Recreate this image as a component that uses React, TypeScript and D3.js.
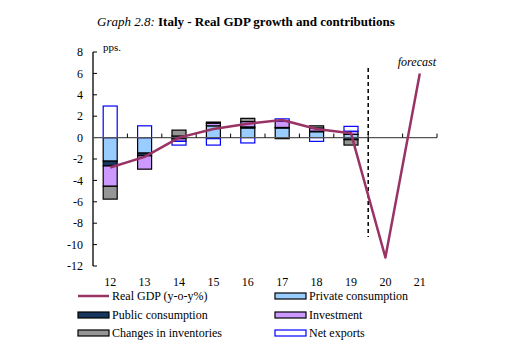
import React from 'react';
import * as d3 from 'd3';

// Data (pps. contributions)
const years = ['12', '13', '14', '15', '16', '17', '18', '19', '20', '21'];
const privateCons = [-2.2, -1.45, 0.15, 1.1, 0.9, 0.9, 0.55, 0.3, null, null];
const publicCons = [-0.45, -0.25, -0.1, -0.1, 0.1, 0.05, 0.05, -0.2, null, null];
const investment = [-1.9, -1.25, -0.25, 0.25, 0.5, 0.6, 0.3, 0.3, null, null];
const inventories = [-1.2, 0, 0.55, 0.1, 0.3, -0.1, 0.2, -0.5, null, null];
const netExports = [2.95, 1.1, -0.35, -0.6, -0.5, 0.2, -0.35, 0.45, null, null];
const gdp = [-2.8, -1.8, 0.0, 0.8, 1.3, 1.65, 0.8, 0.4, -11.2, 6.0];
const yTicks = [8, 6, 4, 2, 0, -2, -4, -6, -8, -10, -12];

const series = [
  { name: 'Private consumption', values: privateCons, fill: '#99ccff', stroke: '#000' },
  { name: 'Public consumption', values: publicCons, fill: '#17375e', stroke: '#000' },
  { name: 'Investment', values: investment, fill: '#cc99ff', stroke: '#000' },
  { name: 'Changes in inventories', values: inventories, fill: '#969696', stroke: '#000' },
  { name: 'Net exports', values: netExports, fill: '#ffffff', stroke: '#0000ff' },
];

const lineColor = '#993366';
const font = 'Liberation Serif, DejaVu Serif, serif';

export default function App() {
  const width = 521;
  const height = 354;
  const left = 93;
  const right = 437;
  const top = 52;
  const bottom = 266;

  const x = d3.scaleBand().domain(years).range([left, right]).padding(0);
  const y = d3.scaleLinear().domain([-12, 8]).range([bottom, top]);
  const barW = 14;
  const cx = (yr: string) => (x(yr) as number) + x.bandwidth() / 2;

  // stack positive up / negative down
  const rects: any[] = [];
  years.forEach((yr, i) => {
    let pos = 0;
    let neg = 0;
    series.forEach((s) => {
      const v = s.values[i];
      if (v == null || v === 0) return;
      let y0, y1;
      if (v > 0) { y0 = pos; y1 = pos + v; pos = y1; }
      else { y0 = neg; y1 = neg + v; neg = y1; }
      rects.push({ yr, y0, y1, s });
    });
  });

  const line = d3.line<number>()
    .x((d, i) => cx(years[i]))
    .y((d) => y(d));

  const boundary = (x('20') as number);

  const legend = [
    { label: 'Real GDP (y-o-y%)', type: 'line', col: 0, row: 0 },
    { label: 'Private consumption', s: series[0], col: 1, row: 0 },
    { label: 'Public consumption', s: series[1], col: 0, row: 1 },
    { label: 'Investment', s: series[2], col: 1, row: 1 },
    { label: 'Changes in inventories', s: series[3], col: 0, row: 2 },
    { label: 'Net exports', s: series[4], col: 1, row: 2 },
  ];
  const legX = [78, 275];
  const legY = [296, 315, 333];

  return (
    <svg width={width} height={height} style={{ position: 'absolute', left: 0, top: 0, background: '#fff', fontFamily: font }}>
      {/* title */}
      <text x={97} y={26} fontSize={13}>
        <tspan fontStyle="italic">Graph 2.8: </tspan>
        <tspan fontWeight="bold">Italy - Real GDP growth and contributions</tspan>
      </text>
      <text x={103} y={51} fontSize={11}>pps.</text>

      {/* bars */}
      {rects.map((r, i) => (
        <rect key={i}
          x={cx(r.yr) - barW / 2}
          y={y(Math.max(r.y0, r.y1))}
          width={barW}
          height={Math.abs(y(r.y0) - y(r.y1))}
          fill={r.s.fill}
          stroke={r.s.stroke}
          strokeWidth={1.2} />
      ))}

      {/* y axis */}
      <line x1={left} x2={left} y1={top} y2={bottom} stroke="#000" strokeWidth={1.3} />
      {yTicks.map((t) => (
        <g key={t}>
          <line x1={left} x2={left + 4} y1={y(t)} y2={y(t)} stroke="#000" />
          <text x={left - 10} y={y(t)} dy="0.35em" textAnchor="end" fontSize={12}>{t}</text>
        </g>
      ))}

      {/* zero axis */}
      <line x1={left} x2={right} y1={y(0)} y2={y(0)} stroke="#555" strokeWidth={1.3} />
      {years.map((yr) => (
        <line key={yr} x1={(x(yr) as number) + x.bandwidth()} x2={(x(yr) as number) + x.bandwidth()}
          y1={y(0)} y2={y(0) - 4} stroke="#000" />
      ))}
      {years.map((yr) => (
        <text key={yr} x={cx(yr)} y={286} textAnchor="middle" fontSize={12}>{yr}</text>
      ))}

      {/* forecast divider */}
      <line x1={boundary} x2={boundary} y1={68} y2={237} stroke="#000" strokeWidth={1.5} strokeDasharray="4,3" />
      <text x={436} y={66} textAnchor="end" fontSize={12} fontStyle="italic">forecast</text>

      {/* GDP line */}
      <path d={line(gdp) as string} fill="none" stroke={lineColor} strokeWidth={2.5} strokeLinejoin="round" />

      {/* legend */}
      {legend.map((l, i) => {
        const lx = legX[l.col];
        const ly = legY[l.row];
        return (
          <g key={i}>
            {l.type === 'line'
              ? <line x1={lx} x2={lx + 31} y1={ly} y2={ly} stroke={lineColor} strokeWidth={2.5} />
              : <rect x={lx} y={ly - 3} width={31} height={6} fill={l.s.fill} stroke={l.s.stroke} strokeWidth={1.2} />}
            <text x={lx + 34} y={ly} dy="0.35em" fontSize={12}>{l.label}</text>
          </g>
        );
      })}
    </svg>
  );
}
